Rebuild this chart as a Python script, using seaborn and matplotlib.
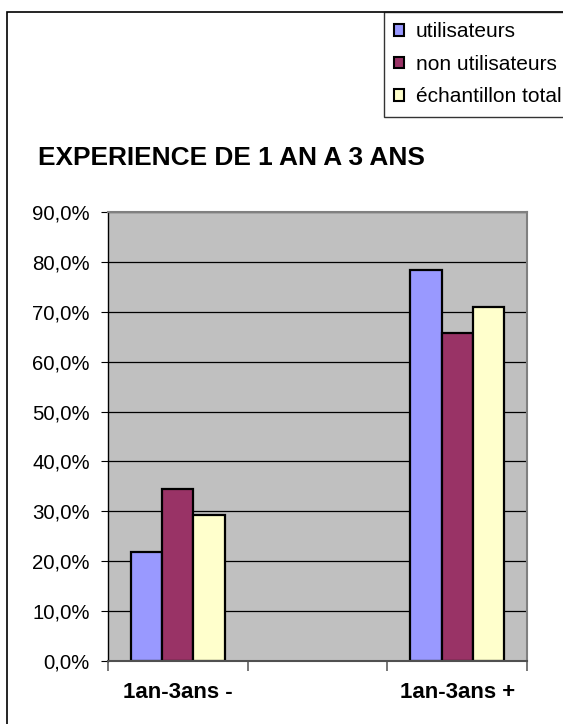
import pandas as pd
import numpy as np
import matplotlib
matplotlib.use('Agg')
import matplotlib.pyplot as plt
from matplotlib.patches import Rectangle
from matplotlib.ticker import FuncFormatter, FixedLocator
import seaborn as sns

# data
groups = ["1an-3ans -", "1an-3ans +"]
series = ["utilisateurs", "non utilisateurs", "échantillon total"]
utilisateurs = [0.218, 0.784]
non_utilisateurs = [0.345, 0.657]
echantillon_total = [0.293, 0.709]
colors = ["#9999FF", "#993366", "#FFFFCC"]
# Excel leaves an empty category between the two groups
order = [groups[0], " ", groups[1]]

df = pd.DataFrame({
    "groupe": groups * 3,
    "serie": [series[0]] * 2 + [series[1]] * 2 + [series[2]] * 2,
    "valeur": utilisateurs + non_utilisateurs + echantillon_total,
})

sns.set_style("white")
plt.rcParams['font.family'] = ['Liberation Sans', 'DejaVu Sans']
plt.rcParams['text.color'] = 'black'
plt.rcParams['xtick.color'] = 'black'
plt.rcParams['ytick.color'] = 'black'

fig = plt.figure(figsize=(5.63, 7.24), dpi=100)
W, H = 563, 724
ax = fig.add_axes([108 / W, 1 - 661 / H, (527 - 108) / W, (661 - 212) / H])
ax.set_facecolor("#C0C0C0")

sns.barplot(data=df, x="groupe", y="valeur", hue="serie", order=order,
            hue_order=series, palette=colors, width=0.67, gap=0,
            edgecolor="black", linewidth=1.6, saturation=1, ax=ax,
            legend=True)

ax.set_xlim(-0.5, 2.5)
ax.set_ylim(0, 0.9)
ax.set_yticks(np.arange(0, 0.91, 0.1))
ax.yaxis.set_major_formatter(FuncFormatter(lambda v, p: f"{v * 100:.1f}%".replace('.', ',')))
ax.yaxis.grid(True, color="black", linewidth=0.9)
ax.set_axisbelow(True)
ax.set_xlabel("")
ax.set_ylabel("")

ax.tick_params(axis='y', which='major', left=True, length=5, width=0.8,
               color='black', labelcolor='black', labelsize=14.7, pad=8)
ax.tick_params(axis='x', which='major', length=0, labelcolor='black',
               labelsize=16, pad=15)
for t in ax.get_xticklabels():
    t.set_fontweight('bold')
ax.xaxis.set_minor_locator(FixedLocator([-0.5, 0.5, 1.5, 2.5]))
ax.tick_params(axis='x', which='minor', bottom=True, length=7, width=1.2, color='#606060')

for side in ["top", "right"]:
    ax.spines[side].set_color("#808080")
    ax.spines[side].set_linewidth(1.5)
ax.spines["bottom"].set_color("#505050")
ax.spines["bottom"].set_linewidth(1.5)
ax.spines["left"].set_color("black")
ax.spines["left"].set_linewidth(1.0)

# legend outside, top right
handles, labels = ax.get_legend_handles_labels()
ax.get_legend().remove()
leg = fig.legend(handles, labels, loc='upper left',
                 bbox_to_anchor=(384 / W, 1 - 12 / H), frameon=True,
                 fancybox=False, edgecolor='black', fontsize=15,
                 handlelength=0.48, handleheight=0.48, handletextpad=0.55,
                 labelspacing=0.65, borderpad=0.5, borderaxespad=0)
leg.get_frame().set_linewidth(1.0)
for h in leg.legend_handles:
    h.set_edgecolor('black')
    h.set_linewidth(1.5)
for t in leg.get_texts():
    t.set_color('black')

# chart title
fig.text(38 / W, 1 - 158 / H, "EXPERIENCE DE 1 AN A 3 ANS", fontsize=18.9,
         fontweight='bold', color='black', ha='left', va='center')

# outer chart border (runs off the right and bottom edges)
fig.patches.append(Rectangle((7 / W, -0.05), 1.0, 1 - 12 / H + 0.05,
                             transform=fig.transFigure, fill=False,
                             edgecolor='black', linewidth=1.2, zorder=0))

fig.savefig("out.png", dpi=100)
